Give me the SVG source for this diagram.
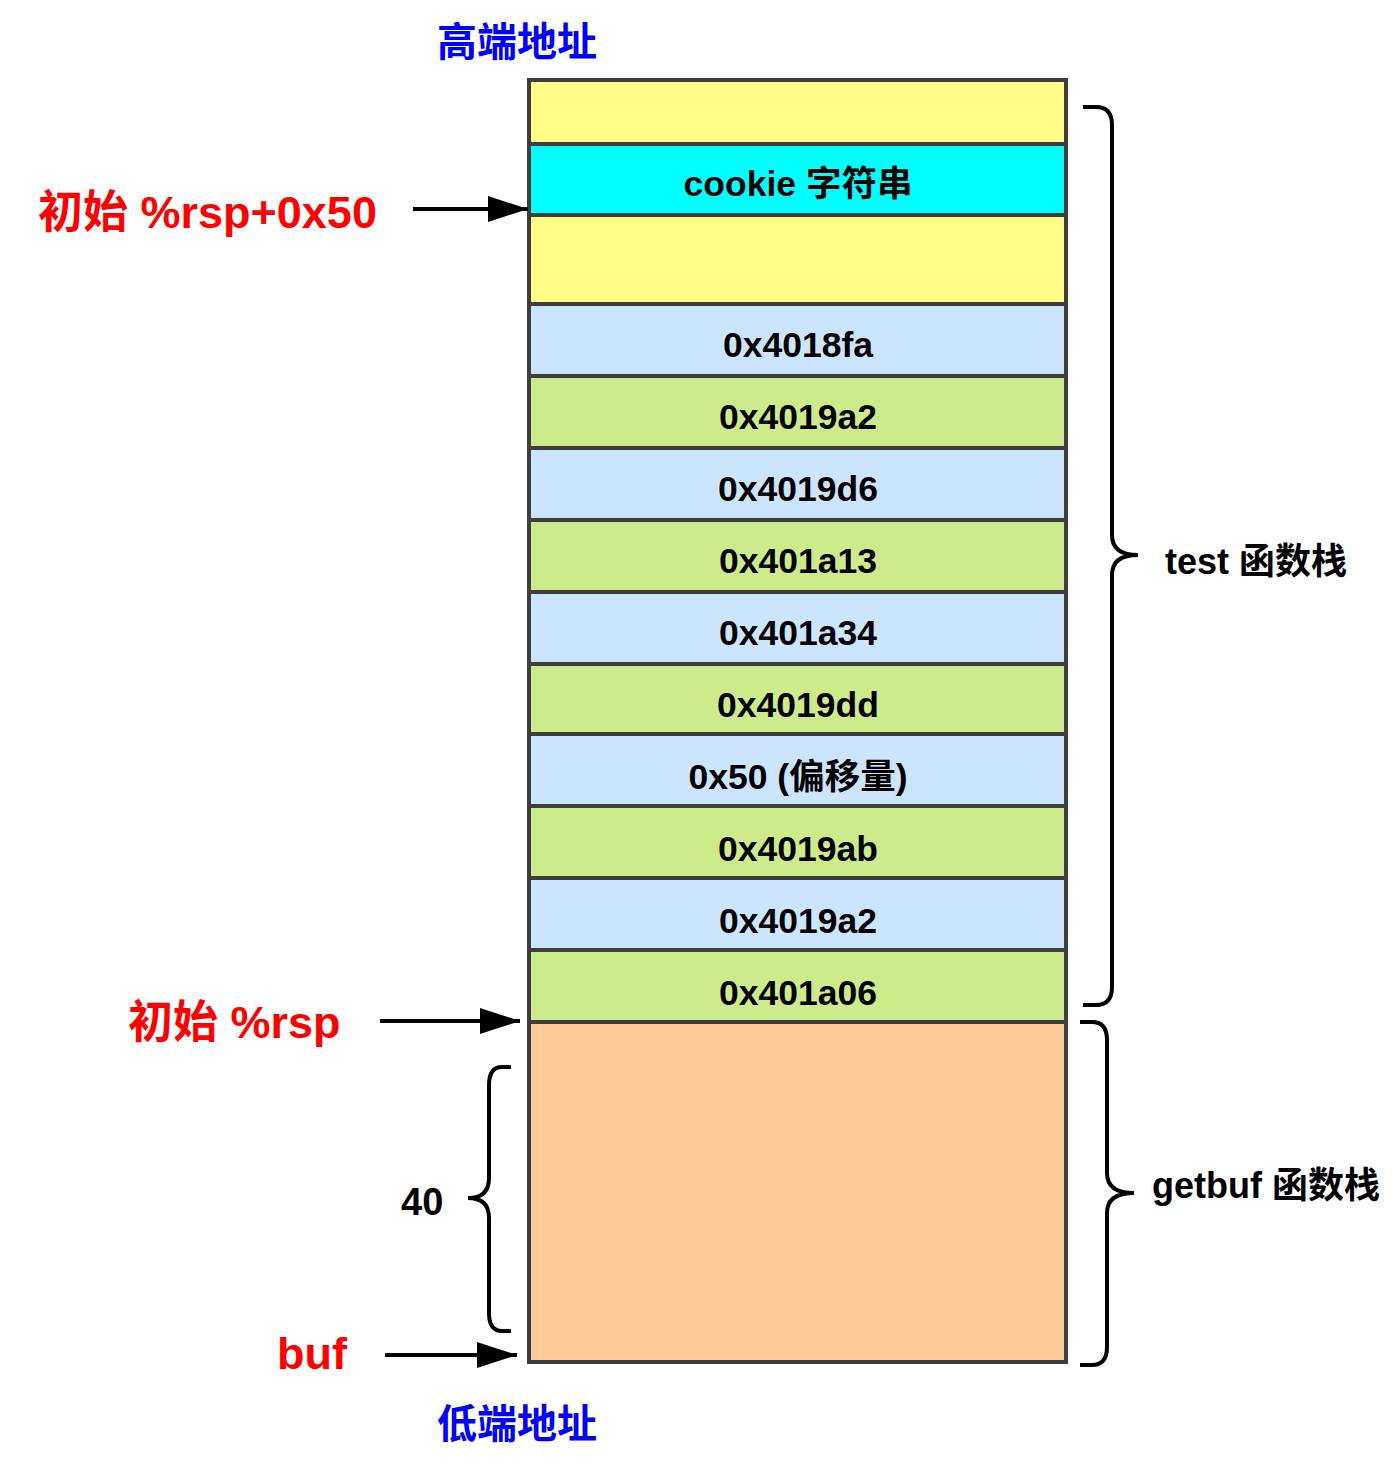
<svg xmlns="http://www.w3.org/2000/svg" width="1398" height="1479" viewBox="0 0 1398 1479">
<style>
.cell{stroke:#3d3d3d;stroke-width:4}
.y{fill:#ffff88}.c{fill:#00ffff}.b{fill:#cce5ff}.g{fill:#cdeb8b}.o{fill:#ffcc99}
text{font-family:"Liberation Sans","Noto Sans CJK SC",sans-serif;font-weight:bold}
.t{font-size:35.5px;fill:#000;text-anchor:middle}
.lbl{font-size:36px;fill:#000}
.red{font-size:45px;fill:#ff0000}
.blue{font-size:40px;fill:#0000ff}
.br{fill:none;stroke:#000;stroke-width:4}
.ar{stroke:#000;stroke-width:4}
</style>
<defs>
<marker id="ah" viewBox="0 0 40 26" refX="40" refY="13" markerWidth="40" markerHeight="26" markerUnits="userSpaceOnUse" orient="auto">
<path d="M0,0 L40,13 L0,26 Z" fill="#000"/>
</marker>
</defs>
<rect width="1398" height="1479" fill="#fff"/>
<text class="blue" x="437" y="56">高端地址</text>
<text class="blue" x="437" y="1438">低端地址</text>
<g id="stack">
<g id="n0"><rect class="cell y" x="529" y="80" width="537" height="64"/></g>
<g id="n1"><rect class="cell c" x="529" y="144" width="537" height="71"/><text class="t" x="798" y="196">cookie 字符串</text></g>
<g id="n2"><rect class="cell y" x="529" y="215" width="537" height="89"/></g>
<g id="n3"><rect class="cell b" x="529" y="304" width="537" height="72"/><text class="t" x="798" y="357">0x4018fa</text></g>
<g id="n4"><rect class="cell g" x="529" y="376" width="537" height="72"/><text class="t" x="798" y="429">0x4019a2</text></g>
<g id="n5"><rect class="cell b" x="529" y="448" width="537" height="72"/><text class="t" x="798" y="501">0x4019d6</text></g>
<g id="n6"><rect class="cell g" x="529" y="520" width="537" height="72"/><text class="t" x="798" y="573">0x401a13</text></g>
<g id="n7"><rect class="cell b" x="529" y="592" width="537" height="72"/><text class="t" x="798" y="645">0x401a34</text></g>
<g id="n8"><rect class="cell g" x="529" y="664" width="537" height="70"/><text class="t" x="798" y="717">0x4019dd</text></g>
<g id="n9"><rect class="cell b" x="529" y="734" width="537" height="72"/><text class="t" x="798" y="789">0x50 (偏移量)</text></g>
<g id="n10"><rect class="cell g" x="529" y="806" width="537" height="72"/><text class="t" x="798" y="861">0x4019ab</text></g>
<g id="n11"><rect class="cell b" x="529" y="878" width="537" height="72"/><text class="t" x="798" y="933">0x4019a2</text></g>
<g id="n12"><rect class="cell g" x="529" y="950" width="537" height="72"/><text class="t" x="798" y="1005">0x401a06</text></g>
<g id="n13"><rect class="cell o" x="529" y="1022" width="537" height="340"/></g>
</g>
<g id="labels">
<text class="red" x="38" y="228">初始 %rsp+0x50</text>
<text class="red" x="128" y="1038">初始 %rsp</text>
<text class="red" x="277" y="1369">buf</text>
<text class="lbl" x="1165" y="574">test 函数栈</text>
<text class="lbl" x="1152" y="1198">getbuf 函数栈</text>
<text class="lbl" x="401" y="1215" style="font-size:38px">40</text>
</g>
<g id="connectors">
<line class="ar" x1="413" y1="209" x2="528" y2="209" marker-end="url(#ah)"/>
<line class="ar" x1="380" y1="1021" x2="520" y2="1021" marker-end="url(#ah)"/>
<line class="ar" x1="385" y1="1355" x2="517" y2="1355" marker-end="url(#ah)"/>
<path class="br" d="M1083,107 H1096 Q1112,107 1112,125 V535 Q1112,555 1138,555 Q1112,555 1112,575 V987 Q1112,1005 1096,1005 H1083"/>
<path class="br" d="M1080,1022 H1092 Q1107,1022 1107,1040 V1173 Q1107,1193 1134,1193 Q1107,1193 1107,1213 V1347 Q1107,1365 1092,1365 H1080"/>
<path class="br" d="M511,1067 H502 Q489,1067 489,1085 V1178 Q489,1198 468,1198 Q489,1198 489,1218 V1313 Q489,1331 502,1331 H511"/>
</g>
</svg>
